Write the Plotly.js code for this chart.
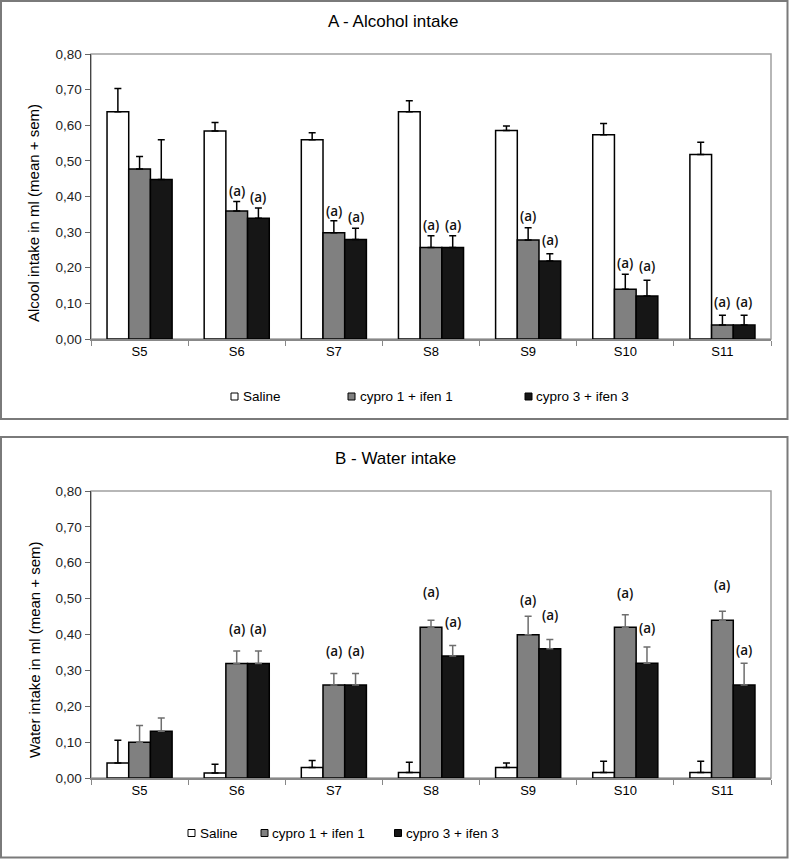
<!DOCTYPE html>
<html>
<head>
<meta charset="utf-8">
<script src="https://cdn.plot.ly/plotly-3.0.1.min.js"></script>
<style>html,body{margin:0;padding:0;background:#fff;}#chart{width:789px;height:859px;}</style>
</head>
<body>
<div id="chart"></div>
<script>
// ---- data ----
const sessions = ["S5", "S6", "S7", "S8", "S9", "S10", "S11"];
const seriesNames = ["Saline", "cypro 1 + ifen 1", "cypro 3 + ifen 3"];
const yTickVals = [0, 0.1, 0.2, 0.3, 0.4, 0.5, 0.6, 0.7, 0.8];

// A - Alcohol intake (mean, sem)
const alcSaline    = [0.638, 0.584, 0.559, 0.638, 0.585, 0.573, 0.518];
const alcSalineSem = [0.065, 0.024, 0.020, 0.031, 0.013, 0.032, 0.034];
const alcCypro1    = [0.477, 0.359, 0.298, 0.257, 0.278, 0.140, 0.039];
const alcCypro1Sem = [0.035, 0.027, 0.034, 0.033, 0.034, 0.042, 0.028];
const alcCypro3    = [0.448, 0.339, 0.279, 0.257, 0.219, 0.121, 0.039];
const alcCypro3Sem = [0.111, 0.029, 0.032, 0.033, 0.020, 0.044, 0.028];

// B - Water intake (mean, sem)
const watSaline    = [0.042, 0.014, 0.029, 0.015, 0.029, 0.015, 0.015];
const watSalineSem = [0.063, 0.024, 0.020, 0.029, 0.013, 0.032, 0.032];
const watCypro1    = [0.100, 0.319, 0.259, 0.420, 0.399, 0.420, 0.440];
const watCypro1Sem = [0.046, 0.035, 0.032, 0.020, 0.052, 0.035, 0.025];
const watCypro3    = [0.130, 0.319, 0.259, 0.340, 0.360, 0.320, 0.259];
const watCypro3Sem = [0.037, 0.035, 0.032, 0.029, 0.026, 0.045, 0.061];

// significance marks "(a)" : sessions flagged for cypro1 / cypro3
const alcSigCypro1 = ["S6", "S7", "S8", "S9", "S10", "S11"];
const alcSigCypro3 = ["S6", "S7", "S8", "S9", "S10", "S11"];
const watSigCypro1 = ["S6", "S7", "S8", "S9", "S10", "S11"];
const watSigCypro3 = ["S6", "S7", "S8", "S9", "S10", "S11"];
const sigLabel = "(a)";

// ---- styling / layout ----
const W = 789, H = 859;
const px = v => v / W;
const py = v => 1 - v / H;
const barFill = ["#ffffff", "#808080", "#161616"];
const FONT = "Liberation Sans, Arial, sans-serif";
const BARGAP = 0.33;
const plotL = 91, plotR = 771;
const catW = (plotR - plotL) / sessions.length;
const barW = catW * (1 - BARGAP) / 3;

function barTrace(name, y, sem, i, xa, ya, errColor) {
  return {
    type: "bar", name: name, x: sessions, y: y, xaxis: xa, yaxis: ya,
    marker: {color: barFill[i], line: {color: "#000", width: 1.5}},
    error_y: {type: "data", symmetric: false, array: sem, arrayminus: sem.map(() => 0),
      visible: true, color: errColor, thickness: 1.5, width: 3.5},
    showlegend: false, hoverinfo: "skip"
  };
}

const data = [
  barTrace(seriesNames[0], alcSaline, alcSalineSem, 0, "x", "y", "#000"),
  barTrace(seriesNames[1], alcCypro1, alcCypro1Sem, 1, "x", "y", "#000"),
  barTrace(seriesNames[2], alcCypro3, alcCypro3Sem, 2, "x", "y", "#000"),
  barTrace(seriesNames[0], watSaline, watSalineSem, 0, "x2", "y2", "#000"),
  barTrace(seriesNames[1], watCypro1, watCypro1Sem, 1, "x2", "y2", "#6e6e6e"),
  barTrace(seriesNames[2], watCypro3, watCypro3Sem, 2, "x2", "y2", "#6e6e6e")
];

// label pixel offsets above error-bar tops
const alcOff1 = [10, 10, 11, 12, 11, 13];
const alcOff3 = [11, 11, 11, 14, 14, 13];
const watOff1 = [22, 23, 28, 16, 22, 26];
const watOff3 = [22, 23, 24, 25, 19, 13];

const annotations = [];
function addSig(list, mean, sem, offs, slot, xa, ya) {
  list.forEach((s, k) => {
    const idx = sessions.indexOf(s);
    annotations.push({
      xref: xa, yref: ya, x: s, y: mean[idx] + sem[idx],
      xshift: slot * barW, yshift: offs[k], yanchor: "middle",
      text: sigLabel, showarrow: false,
      font: {family: "Open Sans, sans-serif", size: 13.5, color: "#111", weight: 600}
    });
  });
}
addSig(alcSigCypro1, alcCypro1, alcCypro1Sem, alcOff1, 0, "x", "y");
addSig(alcSigCypro3, alcCypro3, alcCypro3Sem, alcOff3, 1, "x", "y");
addSig(watSigCypro1, watCypro1, watCypro1Sem, watOff1, 0, "x2", "y2");
addSig(watSigCypro3, watCypro3, watCypro3Sem, watOff3, 1, "x2", "y2");

// titles
annotations.push({xref: "paper", yref: "paper", x: px(393), y: py(22), text: "A - Alcohol intake",
  showarrow: false, font: {family: FONT, size: 17, color: "#000"}, xanchor: "center", yanchor: "middle"});
annotations.push({xref: "paper", yref: "paper", x: px(395), y: py(458), text: "B - Water intake",
  showarrow: false, font: {family: FONT, size: 17, color: "#000"}, xanchor: "center", yanchor: "middle"});
annotations.push({xref: "paper", yref: "paper", x: px(34), y: py(213), text: "Alcool intake in ml (mean + sem)",
  textangle: -90, showarrow: false, font: {family: FONT, size: 15, color: "#000"}, xanchor: "center", yanchor: "middle"});
annotations.push({xref: "paper", yref: "paper", x: px(34), y: py(650), text: "Water intake in ml (mean + sem)",
  textangle: -90, showarrow: false, font: {family: FONT, size: 15, color: "#000"}, xanchor: "center", yanchor: "middle"});

const shapes = [
  // panel frames
  {type: "rect", xref: "paper", yref: "paper", x0: px(1), x1: px(787.5), y0: py(419), y1: py(1), line: {color: "#7a7a7a", width: 2}},
  {type: "rect", xref: "paper", yref: "paper", x0: px(1), x1: px(787.5), y0: py(857.5), y1: py(437), line: {color: "#7a7a7a", width: 2}},
  // plot area frames
  {type: "rect", xref: "x domain", yref: "y domain", x0: 0, x1: 1, y0: 0, y1: 1, line: {color: "#a0a0a0", width: 1.5}, layer: "below"},
  {type: "rect", xref: "x2 domain", yref: "y2 domain", x0: 0, x1: 1, y0: 0, y1: 1, line: {color: "#a0a0a0", width: 1.5}, layer: "below"}
];

// manual legends
function addLegend(yc, sqX, txtX) {
  seriesNames.forEach((n, i) => {
    shapes.push({type: "rect", xref: "paper", yref: "paper",
      x0: px(sqX[i]), x1: px(sqX[i] + 7), y0: py(yc + 3.5), y1: py(yc - 3.5),
      fillcolor: barFill[i], line: {color: "#000", width: 1}});
    annotations.push({xref: "paper", yref: "paper", x: px(txtX[i]), y: py(yc), text: n,
      showarrow: false, xanchor: "left", yanchor: "middle",
      font: {family: FONT, size: 13.5, color: "#000"}});
  });
}
addLegend(396.5, [231, 348, 525], [241, 358, 534]);
addLegend(833, [188, 261, 394.5], [197.5, 270, 404]);

function xAxis(domainY) {
  return {domain: [px(plotL), px(plotR)], anchor: domainY, type: "category",
    showline: true, linecolor: "#888", linewidth: 1.5, ticks: "outside", tickson: "boundaries",
    ticklen: 5, tickcolor: "#888", tickwidth: 1, showgrid: false, zeroline: false,
    tickfont: {family: FONT, size: 13, color: "#000"}, fixedrange: true};
}
function yAxis(anchorX, top, bottom) {
  return {domain: [py(bottom), py(top)], anchor: anchorX, range: [0, 0.8],
    tickvals: yTickVals, tickformat: ".2f", showline: true, linecolor: "#444", linewidth: 1.5,
    ticks: "outside", ticklen: 5, tickcolor: "#666", showgrid: false, zeroline: false,
    tickfont: {family: FONT, size: 13.5, color: "#222"}, fixedrange: true};
}

const layout = {
  width: W, height: H, margin: {l: 0, r: 0, t: 0, b: 0},
  paper_bgcolor: "#fff", plot_bgcolor: "#fff",
  separators: ",.", barmode: "group", bargap: BARGAP, bargroupgap: 0,
  showlegend: false,
  xaxis: xAxis("y"), yaxis: yAxis("x", 54, 339),
  xaxis2: xAxis("y2"), yaxis2: yAxis("x2", 491, 778),
  annotations: annotations, shapes: shapes
};

Plotly.newPlot("chart", data, layout, {displayModeBar: false, staticPlot: true});
</script>
</body>
</html>
